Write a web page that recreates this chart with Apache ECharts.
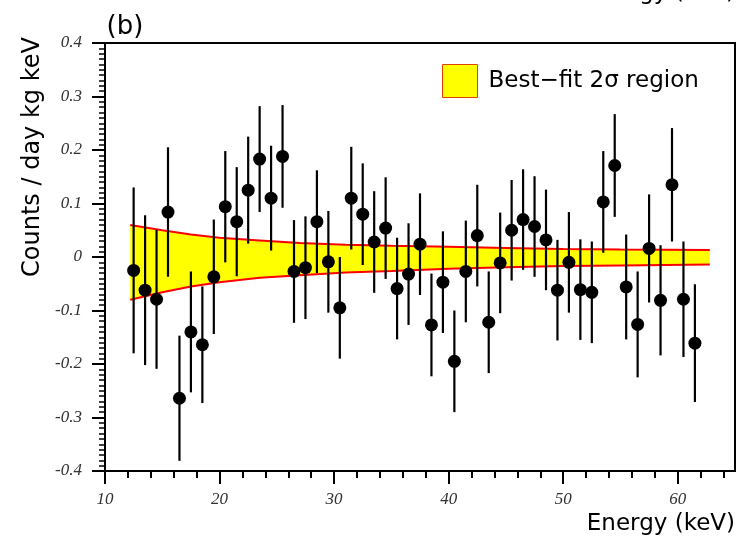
<!DOCTYPE html>
<html>
<head>
<meta charset="utf-8">
<script src="https://cdn.jsdelivr.net/npm/echarts@6/dist/echarts.min.js"></script>
<style>
html,body{margin:0;padding:0;background:#fff;}
#chart{width:738px;height:537px;}
</style>
</head>
<body>
<div id="chart"></div>
<script>
// ---- data ----
const energies = [12.5, 13.5, 14.5, 15.5, 16.5, 17.5, 18.5, 19.5, 20.5, 21.5,
                  22.5, 23.5, 24.5, 25.5, 26.5, 27.5, 28.5, 29.5, 30.5, 31.5,
                  32.5, 33.5, 34.5, 35.5, 36.5, 37.5, 38.5, 39.5, 40.5, 41.5,
                  42.5, 43.5, 44.5, 45.5, 46.5, 47.5, 48.5, 49.5, 50.5, 51.5,
                  52.5, 53.5, 54.5, 55.5, 56.5, 57.5, 58.5, 59.5, 60.5, 61.5];
const counts = [-0.025, -0.062, -0.079, 0.084, -0.264, -0.140, -0.164, -0.037, 0.094, 0.066,
                0.125, 0.183, 0.110, 0.188, -0.027, -0.020, 0.066, -0.009, -0.095, 0.110,
                0.080, 0.028, 0.054, -0.059, -0.032, 0.024, -0.127, -0.047, -0.195, -0.027,
                0.040, -0.122, -0.011, 0.050, 0.070, 0.057, 0.032, -0.062, -0.010, -0.061,
                -0.066, 0.103, 0.171, -0.056, -0.126, 0.016, -0.081, 0.135, -0.079, -0.161];
const errors = [0.155, 0.140, 0.130, 0.121, 0.117, 0.113, 0.109, 0.107, 0.104, 0.102,
                0.100, 0.099, 0.098, 0.096, 0.096, 0.096, 0.096, 0.095, 0.095, 0.096,
                0.095, 0.095, 0.095, 0.095, 0.095, 0.095, 0.096, 0.095, 0.095, 0.095,
                0.095, 0.095, 0.094, 0.094, 0.094, 0.094, 0.094, 0.094, 0.094, 0.094,
                0.095, 0.095, 0.096, 0.098, 0.099, 0.101, 0.103, 0.106, 0.108, 0.110];
const bandEnergy = [12.2, 15, 17.5, 20, 23.5, 27, 31, 35, 40, 45, 50, 55, 62.8];
const bandUpper  = [0.060, 0.050, 0.042, 0.036, 0.031, 0.026, 0.023, 0.021, 0.019, 0.017, 0.015, 0.014, 0.013];
const bandLower  = [-0.080, -0.066, -0.055, -0.047, -0.039, -0.034, -0.029, -0.026, -0.022, -0.019, -0.017, -0.016, -0.014];
const xTickValues = [10, 20, 30, 40, 50, 60];
const legendLabel = 'Best\u2212fit 2\u03c3 region';
const xTitle = 'Energy (keV)';
const yTitle = 'Counts / day kg keV';
const panelLabel = '(b)';

// ---- chart ----
const chart = echarts.init(document.getElementById('chart'), null, {renderer: 'canvas'});
const tickFont = {fontFamily: 'Liberation Serif', fontStyle: 'italic', fontSize: 17, color: '#333'};
const option = {
  backgroundColor: '#fff',
  animation: false,
  grid: {left: 105, right: 3, top: 43, bottom: 66, show: true, borderColor: '#000', borderWidth: 2, backgroundColor: 'transparent'},
  legend: {
    left: 437, top: 59, itemWidth: 35, itemHeight: 33, itemGap: 0,
    selectedMode: false,
    textStyle: {fontFamily: 'DejaVu Sans', fontSize: 23, color: '#000', padding: [3, 0, 0, 6]},
    data: [{name: legendLabel, icon: 'rect', itemStyle: {color: '#ffff00', borderColor: '#e04000', borderWidth: 1}}]
  },
  xAxis: {
    type: 'value', min: 10, max: 65, interval: 10,
    axisLine: {onZero: false, lineStyle: {color: '#000', width: 2}},
    axisTick: {length: 13, lineStyle: {color: '#000', width: 2}, customValues: xTickValues},
    minorTick: {show: true, splitNumber: 5, length: 7, lineStyle: {color: '#000', width: 2}},
    axisLabel: Object.assign({margin: 20, customValues: xTickValues}, tickFont),
    splitLine: {show: false}
  },
  yAxis: {
    type: 'value', min: -0.4, max: 0.4, interval: 0.1,
    axisLine: {onZero: false, lineStyle: {color: '#000', width: 2}},
    axisTick: {length: 13, lineStyle: {color: '#000', width: 2}},
    minorTick: {show: true, splitNumber: 10, length: 6, lineStyle: {color: '#000', width: 1.5}},
    axisLabel: Object.assign({margin: 23, formatter: v => String(+v.toFixed(1))}, tickFont),
    splitLine: {show: false}
  },
  graphic: [
    {type: 'text', x: 125, y: 27, style: {text: panelLabel, font: '26px "DejaVu Sans"', fill: '#000', textAlign: 'center', textVerticalAlign: 'middle'}},
    {type: 'text', x: 33, y: 157, rotation: Math.PI / 2, style: {text: yTitle, font: '24px "DejaVu Sans"', fill: '#000', textAlign: 'center', textVerticalAlign: 'middle'}},
    {type: 'text', x: 735, y: 524, style: {text: xTitle, font: '23px "DejaVu Sans"', fill: '#000', textAlign: 'right', textVerticalAlign: 'middle'}},
    {type: 'text', x: 735, y: -7, style: {text: xTitle, font: '23px "DejaVu Sans"', fill: '#000', textAlign: 'right', textVerticalAlign: 'middle'}}
  ],
  series: [
    {
      name: legendLabel, type: 'custom', coordinateSystem: 'cartesian2d', silent: true, z: 1,
      itemStyle: {color: '#ffff00', borderColor: '#e04000', borderWidth: 1},
      data: bandEnergy.map((e, i) => [e, bandLower[i], bandUpper[i]]),
      encode: {x: 0, y: [1, 2]},
      renderItem: function (params, api) {
        if (params.dataIndex !== 0) return null;
        const pts = [];
        for (let i = 0; i < bandEnergy.length; i++) pts.push(api.coord([bandEnergy[i], bandUpper[i]]));
        for (let i = bandEnergy.length - 1; i >= 0; i--) pts.push(api.coord([bandEnergy[i], bandLower[i]]));
        return {type: 'polygon', shape: {points: pts}, style: {fill: '#ffff00', stroke: null}};
      }
    },
    {
      name: 'upper', type: 'line', silent: true, z: 2, showSymbol: false, symbol: 'none',
      lineStyle: {color: '#ff0000', width: 2},
      data: bandEnergy.map((e, i) => [e, bandUpper[i]])
    },
    {
      name: 'lower', type: 'line', silent: true, z: 2, showSymbol: false, symbol: 'none',
      lineStyle: {color: '#ff0000', width: 2},
      data: bandEnergy.map((e, i) => [e, bandLower[i]])
    },
    {
      name: 'errors', type: 'custom', coordinateSystem: 'cartesian2d', silent: true, z: 3,
      data: energies.map((e, i) => [e, counts[i] - errors[i], counts[i] + errors[i]]),
      encode: {x: 0, y: [1, 2]},
      renderItem: function (params, api) {
        const p1 = api.coord([api.value(0), api.value(1)]);
        const p2 = api.coord([api.value(0), api.value(2)]);
        return {type: 'line', shape: {x1: p1[0], y1: p1[1], x2: p2[0], y2: p2[1]}, style: {stroke: '#000', lineWidth: 2.2}};
      }
    },
    {
      name: 'data', type: 'scatter', z: 4, symbol: 'circle', symbolSize: 13,
      itemStyle: {color: '#000', opacity: 1},
      data: energies.map((e, i) => [e, counts[i]])
    }
  ]
};
chart.setOption(option);
</script>
</body>
</html>
